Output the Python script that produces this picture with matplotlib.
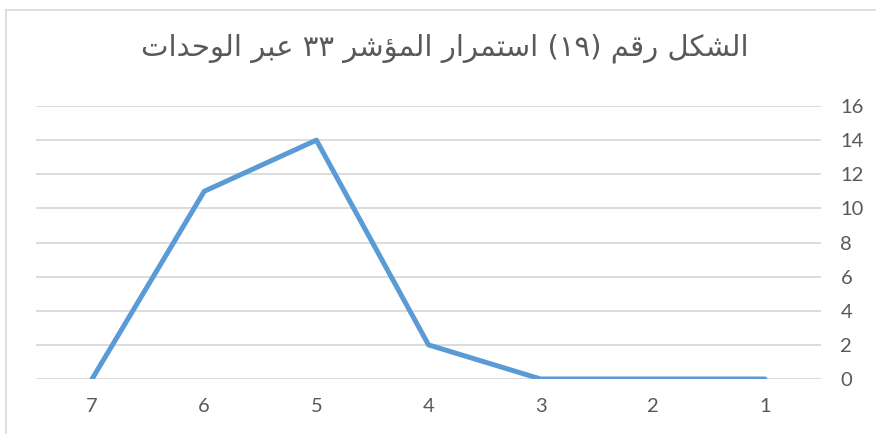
import matplotlib
matplotlib.use("Agg")
import matplotlib.pyplot as plt
from matplotlib.lines import Line2D

# ---- data ----
categories = [7, 6, 5, 4, 3, 2, 1]
values = [0, 11, 14, 2, 0, 0, 0]
y_ticks = [0, 2, 4, 6, 8, 10, 12, 14, 16]
title_text = "الشكل رقم (١٩) استمرار المؤشر ٣٣ عبر الوحدات"

# ---- minimal Arabic shaping (presentation forms) + visual ordering ----
FORMS = {
    'ا': ('\uFE8D', '\uFE8E', None, None),
    'ؤ': ('\uFE85', '\uFE86', None, None),
    'د': ('\uFEA9', '\uFEAA', None, None),
    'ر': ('\uFEAD', '\uFEAE', None, None),
    'و': ('\uFEED', '\uFEEE', None, None),
    'ب': ('\uFE8F', '\uFE90', '\uFE91', '\uFE92'),
    'ت': ('\uFE95', '\uFE96', '\uFE97', '\uFE98'),
    'ح': ('\uFEA1', '\uFEA2', '\uFEA3', '\uFEA4'),
    'س': ('\uFEB1', '\uFEB2', '\uFEB3', '\uFEB4'),
    'ش': ('\uFEB5', '\uFEB6', '\uFEB7', '\uFEB8'),
    'ع': ('\uFEC9', '\uFECA', '\uFECB', '\uFECC'),
    'ق': ('\uFED5', '\uFED6', '\uFED7', '\uFED8'),
    'ك': ('\uFED9', '\uFEDA', '\uFEDB', '\uFEDC'),
    'ل': ('\uFEDD', '\uFEDE', '\uFEDF', '\uFEE0'),
    'م': ('\uFEE1', '\uFEE2', '\uFEE3', '\uFEE4'),
}


def dual(c):
    return c in FORMS and FORMS[c][2] is not None


def shape_word(w):
    out = []
    for i, c in enumerate(w):
        if c not in FORMS:
            out.append(c)
            continue
        prev_j = i > 0 and dual(w[i - 1])
        next_j = dual(c) and i + 1 < len(w) and w[i + 1] in FORMS
        iso, fin, ini, med = FORMS[c]
        if prev_j and next_j:
            out.append(med)
        elif prev_j:
            out.append(fin)
        elif next_j:
            out.append(ini)
        else:
            out.append(iso)
    return ''.join(out)


def visual(text):
    toks = []
    for w in text.split(' '):
        if any(c in FORMS for c in w):
            toks.append(shape_word(w)[::-1])
        else:
            # digit token (possibly bracketed): digits stay LTR; in RTL the
            # mirrored brackets end up looking the same as written
            toks.append(w)
    return ' '.join(toks[::-1])


# ---- figure ----
fig = plt.figure(figsize=(8.76, 4.34), dpi=100)
ax = fig.add_axes([36 / 876, 1 - 379 / 434, (821 - 36) / 876, (379 - 106) / 434])

x = list(range(len(categories)))
ax.plot(x, values, color='#5B9BD5', lw=3.6, solid_joinstyle='round', solid_capstyle='round', zorder=3)

ax.set_xlim(-0.5, len(categories) - 0.5)
ax.set_ylim(y_ticks[0], y_ticks[-1])
ax.set_yticks(y_ticks)
ax.set_xticks(x)
ax.set_xticklabels([str(c) for c in categories])
ax.yaxis.tick_right()
ax.grid(axis='y', color='#D9D9D9', lw=1.3)
ax.set_axisbelow(True)
for s in ax.spines.values():
    s.set_visible(False)
ax.tick_params(length=0, labelsize=14.5, labelcolor='#595959')
ax.tick_params(axis='y', pad=14)
ax.tick_params(axis='x', pad=14)
for lab in ax.get_xticklabels() + ax.get_yticklabels():
    lab.set_fontfamily(['Lato', 'DejaVu Sans'])

fig.text(445 / 876, 1 - 48 / 434, visual(title_text), ha='center', va='center',
         fontsize=21, color='#595959', family=['DejaVu Sans'])

# outer chart border (top and left visible)
fig.add_artist(Line2D([6 / 876, 6 / 876], [0, 1 - 10 / 434], transform=fig.transFigure, color='#D9D9D9', lw=1.2))
fig.add_artist(Line2D([6 / 876, 1], [1 - 10 / 434, 1 - 10 / 434], transform=fig.transFigure, color='#D9D9D9', lw=1.2))

fig.savefig('out.png', dpi=100, facecolor='white')
